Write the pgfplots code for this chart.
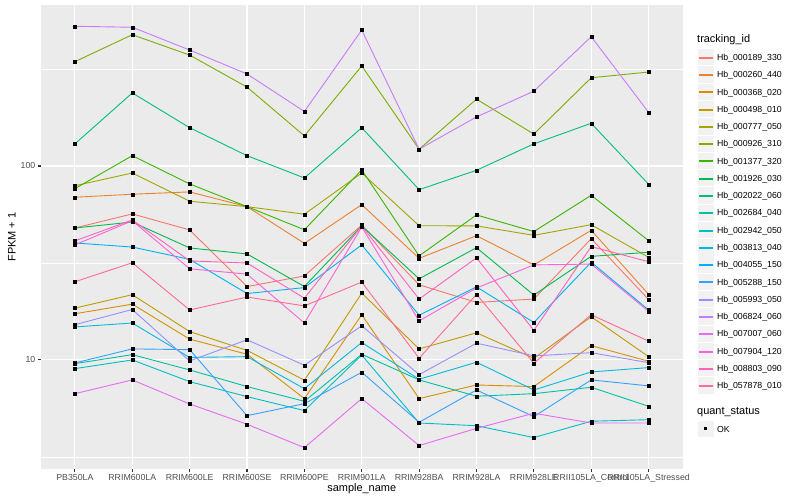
\documentclass[border=0pt]{standalone}
\usepackage{fontspec}
\setmainfont{Liberation Sans}
\usepackage{pgfplots}
\pgfplotsset{compat=1.18}
\usepackage{pgfplotstable}

\definecolor{c1}{HTML}{F8766D}
\definecolor{c2}{HTML}{EA8331}
\definecolor{c3}{HTML}{D89000}
\definecolor{c4}{HTML}{C09B00}
\definecolor{c5}{HTML}{A3A500}
\definecolor{c6}{HTML}{7CAE00}
\definecolor{c7}{HTML}{39B600}
\definecolor{c8}{HTML}{00BB4E}
\definecolor{c9}{HTML}{00BF7D}
\definecolor{c10}{HTML}{00C1A3}
\definecolor{c11}{HTML}{00BFC4}
\definecolor{c12}{HTML}{00BAE0}
\definecolor{c13}{HTML}{00B0F6}
\definecolor{c14}{HTML}{35A2FF}
\definecolor{c15}{HTML}{9590FF}
\definecolor{c16}{HTML}{C77CFF}
\definecolor{c17}{HTML}{E76BF3}
\definecolor{c18}{HTML}{FA62DB}
\definecolor{c19}{HTML}{FF62BC}
\definecolor{c20}{HTML}{FF6C91}
\definecolor{panel}{HTML}{EBEBEB}
\definecolor{keygrey}{HTML}{F2F2F2}
\definecolor{grey30}{HTML}{4D4D4D}
\definecolor{grey20}{HTML}{333333}

\pgfplotstableread{
x s1 s2 s3 s4 s5 s6 s7 s8 s9 s10 s11 s12 s13 s14 s15 s16 s17 s18 s19 s20
0 47.9 69.0 17.3 18.5 79.1 345 76.4 47.9 130 9.57 9.02 14.8 40.1 9.65 15.2 525 6.70 39.2 41.1 25.3
1 56.6 71.5 19.4 21.7 92.0 475 113 51.4 238 10.65 10.0 15.5 38.2 11.4 18.2 519 7.89 52.2 52.7 31.7
2 46.8 73.5 12.8 14.0 65.8 373 80.8 37.8 157.5 8.88 7.73 10.3 33.0 11.3 9.88 396 5.93 29.5 32.4 18.1
3 23.9 61.7 10.7 11.2 61.7 255 61.7 35.2 113 7.29 6.47 10.4 22.0 5.16 12.7 298 4.66 27.7 31.6 21.1
4 27.1 39.9 6.32 7.86 56.4 143 46.9 23.9 86.7 6.12 5.48 7.11 23.6 5.95 9.39 191 3.53 15.5 20.8 19.0
5 49.6 63.2 17.1 22.1 92.0 328 95.4 49.1 157.5 10.7 10.6 12.3 39.2 8.64 15.0 502 6.32 48.5 49.1 25.2
6 24.4 33.4 6.32 11.4 49.2 122 34.4 26.2 75.5 7.89 4.73 7.95 17.0 4.77 8.40 122 3.62 15.9 20.6 10.2
7 19.8 43.7 7.43 13.8 49.1 221 55.9 37.9 95.0 6.50 4.58 9.73 23.8 7.00 12.2 179 4.44 23.5 33.6 21.8
8 20.6 30.9 7.29 10.2 43.9 146 45.9 21.6 130 6.70 3.98 7.00 15.6 5.10 10.5 243 5.31 30.9 14.2 9.62
9 42.2 46.6 11.85 16.7 49.8 285 70.6 34.2 166 7.23 4.83 8.67 31.9 7.89 10.9 464 4.73 31.2 38.4 17.1
10 20.5 21.8 9.85 10.4 33.8 305 41.2 35.9 80.5 5.77 4.92 9.13 18.1 7.35 9.68 189 4.73 17.8 32.1 12.5
}\datatable

\begin{document}
\begin{tikzpicture}
\useasboundingbox (0,0) rectangle (800bp,500bp);
\begin{axis}[
  at={(40.5bp,31bp)}, anchor=south west,
  scale only axis, width=642.5bp, height=464bp,
  ymode=log, ymin=2.74, ymax=676,
  xmin=-0.6, xmax=10.6,
  xtick={0,...,10},
  xticklabels={PB350LA,RRIM600LA,RRIM600LE,RRIM600SE,RRIM600PE,RRIM901LA,RRIM928BA,RRIM928LA,RRIM928LE,RRII105LA\_Control,RRII105LA\_Stressed},
  ytick={10,100}, yticklabels={10,100},
  minor ytick={3.16228,31.6228,316.228},
  xtick pos=lower, ytick pos=left,
  grid=both,
  major grid style={white, line width=1.07bp},
  minor grid style={white, line width=0.53bp},
  axis background/.style={fill=panel},
  axis line style={draw=none},
  tick align=outside,
  major tick length=2.75bp, minor tick length=0pt,
  tick style={color=grey20, line width=1.07bp},
  /pgf/number format/assume math mode=true,
  tick label style={font=\fontsize{8.8}{10}\selectfont, text=grey30, inner sep=0pt},
  xticklabel style={anchor=base, yshift=-8.5bp},
  yticklabel style={anchor=east, xshift=-2.2bp},
  xlabel={sample\_name}, ylabel={FPKM + 1},
  label style={font=\fontsize{11}{13}\selectfont},
  xlabel style={at={(axis description cs:0.5,-0.0431)}, anchor=center},
  ylabel style={at={(axis description cs:-0.0444,0.5)}, anchor=center},
]
\pgfplotsinvokeforeach{1,...,20}{
  \addplot[color=c#1, line width=0.9bp, mark=none] table[x=x, y=s#1] {\datatable};
}
\pgfplotsinvokeforeach{1,...,20}{
  \addplot[only marks, mark=square*, mark size=1.5bp, color=black] table[x=x, y=s#1] {\datatable};
}
\end{axis}
% legend
\node[anchor=base west, inner sep=0pt, font=\fontsize{11}{13}\selectfont] at (697bp,457bp) {tracking\_id};
\foreach \i/\name in {1/Hb\_000189\_330,2/Hb\_000260\_440,3/Hb\_000368\_020,4/Hb\_000498\_010,5/Hb\_000777\_050,6/Hb\_000926\_310,7/Hb\_001377\_320,8/Hb\_001926\_030,9/Hb\_002022\_060,10/Hb\_002684\_040,11/Hb\_002942\_050,12/Hb\_003813\_040,13/Hb\_004055\_150,14/Hb\_005288\_150,15/Hb\_005993\_050,16/Hb\_006824\_060,17/Hb\_007007\_060,18/Hb\_007904\_120,19/Hb\_008803\_090,20/Hb\_057878\_010}{
  \pgfmathsetmacro\yc{500-57.3-17.28*(\i-1)}
  \pgfmathsetmacro\ylo{\yc-8.64}
  \pgfmathsetmacro\ybs{\yc-3.15}
  \pgfmathsetmacro\yl{floor(\yc)}
  \fill[keygrey] (697.5bp,\ylo bp+0.5bp) rectangle ++(16.3bp,16.3bp);
  \fill[c\i] (699bp,\yl bp-1bp) rectangle (713bp,\yl bp+1bp);
  \node[anchor=base west, inner sep=0pt, font=\fontsize{8.8}{10}\selectfont] at (716.8bp,\ybs bp) {\name};
}
\node[anchor=base west, inner sep=0pt, font=\fontsize{11}{13}\selectfont] at (697bp,85bp) {quant\_status};
\fill[keygrey] (697.5bp,62.86bp) rectangle ++(16.3bp,16.3bp);
\fill[black] (704.1bp,69.6bp) rectangle ++(3bp,3bp);
\node[anchor=base west, inner sep=0pt, font=\fontsize{8.8}{10}\selectfont] at (716.8bp,67.85bp) {OK};
\end{tikzpicture}
\end{document}
